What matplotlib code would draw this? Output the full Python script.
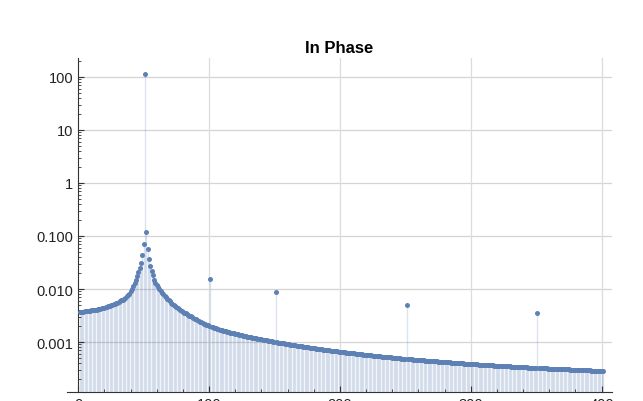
import numpy as np
import matplotlib
matplotlib.use("Agg")
import matplotlib.pyplot as plt
from matplotlib.ticker import FixedLocator, NullFormatter

# in-phase spectrum, in parts per million (index 1..401)
in_phase_ppm = [
    3680, 3710, 3730, 3760, 3790, 3810, 3840, 3870, 3910, 3940, 3970, 4010, 4040, 4090, 4150, 4200, 4270, 4330, 4400, 4470,
    4550, 4630, 4710, 4800, 4910, 5020, 5140, 5270, 5410, 5550, 5710, 5890, 6080, 6280, 6570, 6900, 7260, 7680, 8150, 9000,
    10000, 11300, 13000, 15100, 17900, 21100, 25000, 31000, 44400,
    70600, 112000000, 117000, 57200, 37000, 27000, 21900, 18000, 14600, 13000, 11800, 10700, 9900, 9190, 8580, 8030, 7470, 6980, 6550, 6170,
    5830, 5530, 5250, 5010, 4780, 4570, 4370, 4190, 4020, 3870, 3730, 3590, 3470, 3350, 3240, 3140, 3040, 2950, 2860, 2760,
    2670, 2590, 2510, 2430, 2360, 2290, 2230, 2170, 2110, 2050, 2000, 15500, 1910, 1880, 1840, 1810, 1780, 1750, 1720, 1690,
    1660, 1630, 1610, 1580, 1560, 1540, 1510, 1490, 1470, 1450, 1430, 1410, 1390, 1370, 1350, 1330, 1320, 1300, 1280, 1270,
    1250, 1240, 1220, 1210, 1190, 1180, 1170, 1150, 1140, 1130, 1120, 1100, 1090, 1080, 1070, 1060, 1050, 1040, 1030, 1020,
    1010, 8900, 988, 978, 968, 958, 948, 939, 930, 921, 912, 903, 894, 886, 878, 870, 862, 854, 846, 839,
    831, 824, 817, 810, 803, 796, 789, 783, 776, 770, 764, 757, 751, 745, 739, 734, 728, 722, 717, 711,
    706, 700, 695, 690, 685, 680, 675, 670, 665, 661, 656, 651, 647, 642, 638, 633, 629, 624, 620, 616,
    612, 608, 604, 600, 596, 592, 588, 584, 580, 577, 573, 569, 566, 562, 559, 555, 552, 548, 545, 542,
    539, 535, 532, 529, 526, 523, 520, 517, 514, 511, 508,
    505, 502, 499, 497, 494, 491, 488, 486, 483, 481, 5060, 476, 473, 471, 469, 466, 464, 462, 460, 458,
    456, 453, 451, 449, 447, 445, 443, 441, 439, 437, 435, 433, 431, 429, 427, 426, 424, 422, 420, 418,
    416, 415, 413, 411, 409, 408, 406, 404, 403, 401, 399, 398, 396, 394, 393, 391, 390, 388, 387, 385,
    384, 382, 381, 379, 378, 376, 375, 374, 372, 371, 370, 368, 367, 366, 364, 363, 362, 360, 359, 358,
    357, 355, 354, 353, 352, 351, 349, 348, 347, 346, 345, 344, 342, 341, 340, 339, 338, 337, 336, 335,
    333, 332, 331, 330, 329, 328, 327, 326, 325, 324, 3570, 322, 321, 320, 319, 319, 318, 317, 316, 315,
    314, 313, 313, 312, 311, 310, 309, 308, 308, 307, 306, 305, 304, 304, 303, 302, 301, 301, 300, 299,
    298, 298, 297, 296, 295, 295, 294, 293, 292, 292, 291, 290, 290, 289, 288, 287, 287, 286, 285, 285,
    284,
]
first_index = 1

y_ticks = [0.001, 0.01, 0.1, 1, 10, 100]
y_labels = ["0.001", "0.010", "0.100", "1", "10", "100"]
x_ticks = [0, 100, 200, 300, 400]

vals = np.array(in_phase_ppm) * 1e-6
n = np.arange(first_index, first_index + len(vals))

plt.rcParams["font.family"] = ["Liberation Sans", "DejaVu Sans"]
blue = "#5E81B5"
ymin, ymax = 1.14e-4, 228
xmin, xmax = -8.6, 408

fig = plt.figure(figsize=(6.43, 4.02), dpi=100)
ax = fig.add_axes([67 / 643, 9 / 402, 545 / 643, 334 / 402])
ax.set_yscale("log")
ax.set_xlim(xmin, xmax)
ax.set_ylim(ymin, ymax)

# grid lines (start at the y axis)
gx0 = (0 - xmin) / (xmax - xmin)
for yv in y_ticks:
    ax.axhline(yv, xmin=gx0, color="#d4d4d4", lw=0.9, zorder=0)
for xv in x_ticks[1:]:
    ax.axvline(xv, color="#dcdcdc", lw=0.9, zorder=0)

# filling to axis + points
ax.vlines(n, ymin, vals, color=blue, alpha=0.22, lw=0.95, zorder=1)
ax.plot(n, vals, "o", ms=3.6, color=blue, mec="none", zorder=3)

for s in ["top", "right"]:
    ax.spines[s].set_visible(False)
ax.spines["left"].set_position(("data", 0))
for s in ["left", "bottom"]:
    ax.spines[s].set_color("#333333")
    ax.spines[s].set_linewidth(0.8)

ax.yaxis.set_major_locator(FixedLocator(y_ticks))
ax.set_yticklabels(y_labels)
minors = [m * 10.0 ** e for e in range(-4, 3) for m in range(2, 10)]
ax.yaxis.set_minor_locator(FixedLocator([v for v in minors if ymin < v < ymax]))
ax.yaxis.set_minor_formatter(NullFormatter())
ax.xaxis.set_major_locator(FixedLocator(x_ticks))
ax.xaxis.set_minor_locator(FixedLocator([v for v in range(20, 401, 20) if v % 100]))
ax.tick_params(which="both", direction="in", colors="#333333", labelsize=10.5, labelcolor="#222222")
ax.tick_params(which="major", length=4, width=0.8)
ax.tick_params(which="minor", length=2.2, width=0.6)

ax.set_title("In Phase", fontsize=12, fontweight="bold", pad=4)
fig.savefig("out.png")
